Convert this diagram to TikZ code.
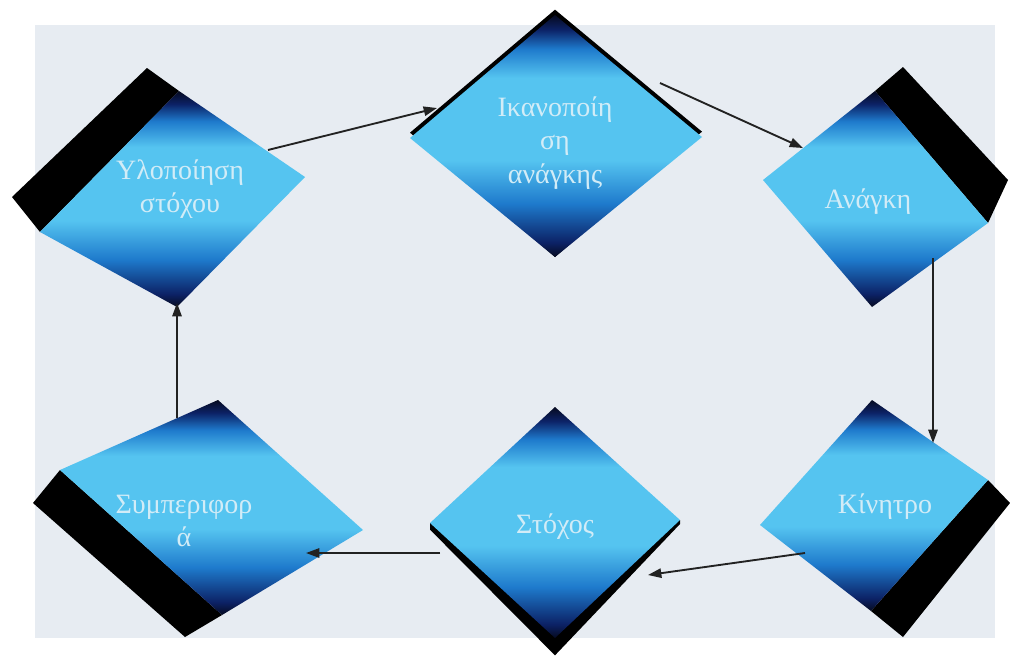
\documentclass[tikz,border=0pt]{standalone}
\usepackage{fontspec}
\setmainfont{Liberation Serif}
\usetikzlibrary{arrows.meta}
\definecolor{dnavy}{HTML}{060A20}
\definecolor{navtwo}{HTML}{0C2266}
\definecolor{mblue}{HTML}{1E7ACC}
\definecolor{lblue}{HTML}{55C4F0}
\definecolor{bgc}{HTML}{E7ECF2}
\definecolor{txtc}{HTML}{D2ECF7}
\definecolor{arrc}{HTML}{222222}
\pgfdeclareverticalshading{dshade}{100bp}{color(0bp)=(dnavy); color(25bp)=(dnavy); color(28bp)=(navtwo); color(36bp)=(mblue); color(45bp)=(lblue); color(62bp)=(lblue); color(68bp)=(mblue); color(72bp)=(navtwo); color(75bp)=(dnavy); color(100bp)=(dnavy)}
\tikzset{
  face/.style={shading=dshade},
  extr/.style={fill=black},
  lbl/.style={text=txtc, font=\fontsize{21}{25}\selectfont, align=center, inner sep=0pt},
  arr/.style={draw=arrc, line width=1.4pt, -{Triangle[length=10pt,width=7pt]}}
}
\begin{document}
\begin{tikzpicture}[x=0.75pt,y=-0.75pt]
\useasboundingbox (0,0) rectangle (1010,657);
\fill[white] (0,0) rectangle (1010,657);
\fill[bgc] (35,25) rectangle (995,638);

% D1 Υλοποίηση στόχου
\coordinate (d1L) at (40,232); \coordinate (d1T) at (179,91);
\coordinate (d1R) at (305,177); \coordinate (d1B) at (177,307);
\path[extr] (12,197) -- (147,68) -- (d1T) -- (d1L) -- cycle;
\path[face] (d1L) -- (d1T) -- (d1R) -- (d1B) -- cycle;
\node[lbl] (d1) at (180,189) {Υλοποίηση\\στόχου};

% D2 Ικανοποίηση ανάγκης
\coordinate (d2L) at (410,138); \coordinate (d2T) at (555,15);
\coordinate (d2R) at (702,137); \coordinate (d2B) at (555,257);
\path[extr] ([yshift=4pt]d2L) -- ([yshift=4pt]d2T) -- ([yshift=4pt]d2R) -- (d2B) -- cycle;
\path[face] (d2L) -- (d2T) -- (d2R) -- (d2B) -- cycle;
\node[lbl] (d2) at (555,143) {Ικανοποίη\\ση\\ανάγκης};

% D3 Ανάγκη
\coordinate (d3L) at (763,180); \coordinate (d3T) at (875,91);
\coordinate (d3R) at (988,223); \coordinate (d3B) at (872,307);
\path[extr] (d3T) -- (903,67) -- (1008,180) -- (d3R) -- cycle;
\path[face] (d3L) -- (d3T) -- (d3R) -- (d3B) -- cycle;
\node[lbl] (d3) at (868,202) {Ανάγκη};

% D4 Συμπεριφορά
\coordinate (d4L) at (60,470); \coordinate (d4T) at (218,400);
\coordinate (d4R) at (363,530); \coordinate (d4B) at (222,615);
\path[extr] (d4L) -- (33,503) -- (185,637) -- (d4B) -- cycle;
\path[face] (d4L) -- (d4T) -- (d4R) -- (d4B) -- cycle;
\node[lbl] (d4) at (184,521) {Συμπεριφορ\\ά};

% D5 Στόχος
\coordinate (d5L) at (430,523); \coordinate (d5T) at (555,407);
\coordinate (d5R) at (680,520); \coordinate (d5B) at (555,638);
\path[extr] (d5L) -- ([yshift=-5pt]d5L) -- ([yshift=-13pt]d5B) -- ([yshift=-3pt]d5R) -- (d5R) -- cycle;
\path[face] (d5L) -- (d5T) -- (d5R) -- (d5B) -- cycle;
\node[lbl] (d5) at (555,527) {Στόχος};

% D6 Κίνητρο
\coordinate (d6L) at (760,525); \coordinate (d6T) at (872,400);
\coordinate (d6R) at (988,480); \coordinate (d6B) at (871,611);
\path[extr] (d6R) -- (1010,503) -- (903,637) -- (d6B) -- cycle;
\path[face] (d6L) -- (d6T) -- (d6R) -- (d6B) -- cycle;
\node[lbl] (d6) at (885,507) {Κίνητρο};

% connectors
\coordinate (a1s) at (268,150); \coordinate (a1e) at (437,108);
\coordinate (a2s) at (660,83);  \coordinate (a2e) at (803,148);
\coordinate (a3s) at (933,258); \coordinate (a3e) at (933,443);
\coordinate (a4s) at (805,553); \coordinate (a4e) at (648,575);
\coordinate (a5s) at (440,553); \coordinate (a5e) at (306,553);
\coordinate (a6s) at (177,418); \coordinate (a6e) at (177,303);
\draw[arr] (a1s) -- (a1e);
\draw[arr] (a2s) -- (a2e);
\draw[arr] (a3s) -- (a3e);
\draw[arr] (a4s) -- (a4e);
\draw[arr] (a5s) -- (a5e);
\draw[arr] (a6s) -- (a6e);
\end{tikzpicture}
\end{document}
